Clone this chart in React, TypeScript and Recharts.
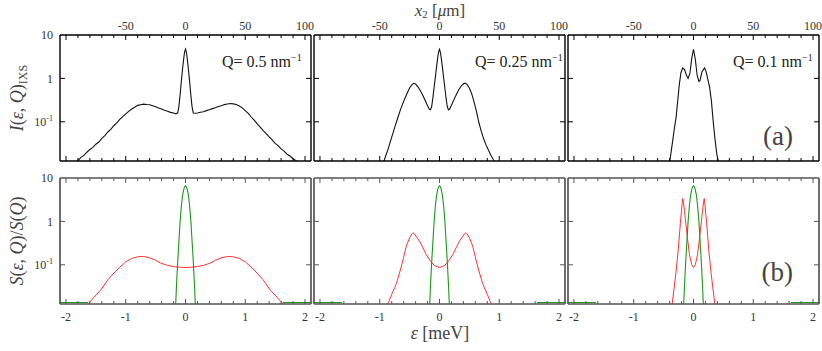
import { LineChart, Line, XAxis, YAxis } from "recharts";

const FONT = "'Liberation Serif', 'Times New Roman', 'DejaVu Serif', serif";

// axes
const epsDomain: [number, number] = [-2.1, 2.1];
const yDomain: [number, number] = [0.0125, 10];
const epsTicks = [-2, -1.8, -1.6, -1.4, -1.2, -1, -0.8, -0.6, -0.4, -0.2, 0, 0.2, 0.4, 0.6, 0.8, 1, 1.2, 1.4, 1.6, 1.8, 2];
const epsMajor = [-2, -1, 0, 1, 2];
const epsLabels = ["-2", "-1", "0", "1", "2"];
const x2Major = [-1, 0, 1, 2];
const x2Labels = ["-50", "0", "50", "100"];
const yTicks = [0.1, 1, 10];
const qLabels = ["0.5", "0.25", "0.1"];

// (a) I(eps,Q) IXS, Q = 0.5
const ixs05Eps = [-1.85, -1.8, -1.75, -1.7, -1.65, -1.6, -1.55, -1.5, -1.45, -1.4, -1.35, -1.3, -1.25, -1.2, -1.15, -1.1, -1.05, -1, -0.95, -0.9, -0.85, -0.8, -0.75, -0.7, -0.65, -0.6, -0.55, -0.5, -0.45, -0.4, -0.35, -0.3, -0.25, -0.2, -0.16, -0.13, -0.11, -0.09, -0.07, -0.05, -0.03, -0.015, 0, 0.015, 0.03, 0.05, 0.07, 0.09, 0.11, 0.13, 0.16, 0.2, 0.25, 0.3, 0.35, 0.4, 0.45, 0.5, 0.55, 0.6, 0.65, 0.7, 0.75, 0.8, 0.85, 0.9, 0.95, 1, 1.05, 1.1, 1.15, 1.2, 1.25, 1.3, 1.35, 1.4, 1.45, 1.5, 1.55, 1.6, 1.65, 1.7, 1.75, 1.8, 1.85, 1.9];
const ixs05 = [0.0112, 0.0128, 0.0152, 0.0168, 0.0199, 0.0231, 0.0258, 0.0305, 0.0342, 0.0415, 0.0482, 0.0583, 0.0671, 0.0812, 0.0941, 0.114, 0.131, 0.153, 0.174, 0.197, 0.216, 0.239, 0.248, 0.256, 0.251, 0.247, 0.235, 0.223, 0.207, 0.197, 0.184, 0.176, 0.165, 0.159, 0.153, 0.161, 0.23, 0.42, 0.86, 1.62, 2.85, 4.1, 4.75, 4.05, 2.8, 1.55, 0.82, 0.4, 0.22, 0.16, 0.157, 0.159, 0.166, 0.171, 0.181, 0.189, 0.201, 0.211, 0.225, 0.235, 0.249, 0.257, 0.263, 0.259, 0.251, 0.231, 0.209, 0.181, 0.156, 0.129, 0.109, 0.0895, 0.0758, 0.0628, 0.0535, 0.0448, 0.0382, 0.0318, 0.0283, 0.0238, 0.0212, 0.0179, 0.0163, 0.0141, 0.0127, 0.0112];

// Q = 0.25
const ixs025Eps = [-0.94, -0.9, -0.86, -0.82, -0.78, -0.74, -0.7, -0.66, -0.62, -0.58, -0.54, -0.5, -0.46, -0.43, -0.4, -0.36, -0.32, -0.28, -0.24, -0.2, -0.17, -0.15, -0.13, -0.11, -0.09, -0.07, -0.05, -0.03, -0.015, 0, 0.015, 0.03, 0.05, 0.07, 0.09, 0.11, 0.13, 0.15, 0.17, 0.2, 0.24, 0.28, 0.32, 0.36, 0.4, 0.43, 0.46, 0.5, 0.54, 0.58, 0.62, 0.66, 0.7, 0.74, 0.78, 0.82, 0.86, 0.9, 0.94];
const ixs025 = [0.0112, 0.0165, 0.0235, 0.036, 0.054, 0.082, 0.121, 0.178, 0.252, 0.345, 0.46, 0.6, 0.72, 0.77, 0.74, 0.64, 0.52, 0.41, 0.31, 0.235, 0.195, 0.19, 0.23, 0.36, 0.62, 1.05, 1.8, 3.0, 4.1, 4.7, 4.0, 2.9, 1.75, 1.0, 0.6, 0.35, 0.225, 0.188, 0.197, 0.24, 0.32, 0.42, 0.54, 0.66, 0.75, 0.775, 0.73, 0.6, 0.44, 0.28, 0.17, 0.095, 0.06, 0.04, 0.029, 0.022, 0.017, 0.0135, 0.0112];

// Q = 0.1
const ixs01Eps = [-0.4, -0.38, -0.35, -0.32, -0.29, -0.26, -0.235, -0.21, -0.18, -0.15, -0.12, -0.09, -0.06, -0.03, 0, 0.03, 0.06, 0.09, 0.11, 0.14, 0.185, 0.21, 0.24, 0.27, 0.3, 0.33, 0.36, 0.39, 0.42];
const ixs01 = [0.0115, 0.018, 0.035, 0.07, 0.13, 0.35, 0.77, 1.35, 1.75, 1.6, 1.2, 1.0, 1.3, 2.9, 4.7, 2.8, 1.2, 0.85, 0.9, 1.4, 1.75, 1.45, 0.95, 0.62, 0.3, 0.1, 0.04, 0.018, 0.0115];

// (b) S(eps,Q)/S(Q), red
const s05Eps = [-1.66, -1.6, -1.5, -1.42, -1.3, -1.2, -1.1, -1, -0.9, -0.8, -0.75, -0.7, -0.6, -0.5, -0.42, -0.3, -0.2, -0.1, 0, 0.1, 0.2, 0.3, 0.42, 0.5, 0.6, 0.7, 0.75, 0.8, 0.9, 1, 1.1, 1.2, 1.3, 1.42, 1.5, 1.6, 1.66];
const s05 = [0.0115, 0.014, 0.02, 0.026, 0.045, 0.064, 0.088, 0.117, 0.14, 0.153, 0.156, 0.155, 0.145, 0.127, 0.11, 0.097, 0.091, 0.088, 0.0866, 0.088, 0.091, 0.097, 0.11, 0.127, 0.145, 0.155, 0.156, 0.153, 0.14, 0.117, 0.088, 0.064, 0.045, 0.026, 0.02, 0.014, 0.0115];

const s025Eps = [-0.88, -0.85, -0.8, -0.75, -0.72, -0.65, -0.6, -0.555, -0.5, -0.46, -0.445, -0.42, -0.38, -0.333, -0.28, -0.22, -0.15, -0.08, 0, 0.08, 0.15, 0.22, 0.28, 0.333, 0.38, 0.42, 0.445, 0.46, 0.5, 0.555, 0.6, 0.65, 0.72, 0.75, 0.8, 0.85, 0.88];
const s025 = [0.0115, 0.014, 0.021, 0.03, 0.0375, 0.08, 0.15, 0.27, 0.42, 0.52, 0.545, 0.52, 0.43, 0.35, 0.25, 0.17, 0.12, 0.095, 0.0866, 0.095, 0.12, 0.17, 0.25, 0.35, 0.43, 0.52, 0.545, 0.52, 0.42, 0.27, 0.15, 0.08, 0.0375, 0.03, 0.021, 0.014, 0.0115];

const s01Eps = [-0.36, -0.33, -0.3, -0.26, -0.22, -0.19, -0.18, -0.17, -0.15, -0.123, -0.1, -0.067, -0.03, 0, 0.03, 0.067, 0.1, 0.123, 0.15, 0.17, 0.18, 0.19, 0.22, 0.26, 0.3, 0.33, 0.36];
const s01 = [0.0115, 0.025, 0.055, 0.187, 0.9, 2.6, 3.37, 2.9, 1.7, 0.78, 0.4, 0.17, 0.1, 0.0866, 0.1, 0.17, 0.4, 0.78, 1.7, 2.9, 3.37, 2.6, 0.9, 0.187, 0.055, 0.025, 0.0115];

// green curve (same in every panel); flat parts lie on the floor, null breaks the line
const resEps = [-2.1, -1.63, -1.0, -0.165, -0.15, -0.13, -0.11, -0.09, -0.07, -0.05, -0.03, -0.015, 0, 0.015, 0.03, 0.05, 0.07, 0.09, 0.11, 0.13, 0.15, 0.165, 1.0, 1.63, 2.1];
const res = [0.0135, 0.0135, null, 0.0115, 0.035, 0.12, 0.35, 1.0, 2.2, 3.9, 5.4, 6.3, 6.6, 6.3, 5.4, 3.9, 2.2, 1.0, 0.35, 0.12, 0.035, 0.0115, null, 0.0135, 0.0135];

const pts = (e: number[], v: (number | null)[]) => e.map((x, i) => ({ e: x, v: v[i] }));

const topCurves = [pts(ixs05Eps, ixs05), pts(ixs025Eps, ixs025), pts(ixs01Eps, ixs01)];
const redCurves = [pts(s05Eps, s05), pts(s025Eps, s025), pts(s01Eps, s01)];
const greenCurve = pts(resEps, res);

// layout
const colLefts = [60, 314, 568];
const rowTops = [35, 178];
const plotW = 251;
const plotH = 126;
const AX_L = 45, AX_R = 15, AX_T = 30, AX_B = 30;

const isMajor = (v: number) => Math.abs(v - Math.round(v)) < 1e-6;
const txt = { fontFamily: FONT };

function xTick(side: "top" | "bottom", majors: number[] | null, labels: string[] | null, color: string) {
  return (p: any) => {
    const { x, y, payload } = p;
    const v = payload.value as number;
    const major = isMajor(v);
    const len = major ? 5 : 3;
    const dir = side === "bottom" ? -1 : 1;
    const idx = majors ? majors.findIndex((m) => Math.abs(m - v) < 1e-6) : -1;
    return (
      <g>
        <line x1={x} y1={y} x2={x} y2={y + dir * len} stroke={color} strokeWidth={1} />
        {idx >= 0 && labels && (
          <text x={x} y={side === "bottom" ? y + 17 : y - 5} textAnchor="middle" fontSize={12} fill="#333" style={txt}>
            {labels[idx]}
          </text>
        )}
      </g>
    );
  };
}

function yTick(side: "left" | "right", showLabel: boolean, color: string) {
  return (p: any) => {
    const { x, y, payload } = p;
    const v = payload.value as number;
    const dir = side === "left" ? 1 : -1;
    const edge = v >= 10 || v <= yDomain[0];
    return (
      <g>
        {!edge && <line x1={x} y1={y} x2={x + dir * 5} y2={y} stroke={color} strokeWidth={1} />}
        {showLabel && (
          <text x={x - 7} y={y} dy="0.35em" textAnchor="end" fontSize={12} fill="#333" style={txt}>
            {v === 0.1 ? (
              <>
                <tspan>10</tspan>
                <tspan dy={-5} fontSize={8}>-1</tspan>
              </>
            ) : (
              <tspan>{v >= 10 ? "10" : "1"}</tspan>
            )}
          </text>
        )}
      </g>
    );
  };
}

function Panel({ row, col }: { row: number; col: number }) {
  const frame = row === 0 ? "#000" : "#555";
  const fw = row === 0 ? 1.4 : 1.7;
  const left = colLefts[col] - AX_L;
  const top = rowTops[row] - AX_T;
  return (
    <div style={{ position: "absolute", left, top }}>
      <LineChart width={plotW + AX_L + AX_R} height={plotH + AX_T + AX_B} margin={{ top: 0, right: 0, bottom: 0, left: 0 }}>
        <XAxis
          xAxisId="b"
          dataKey="e"
          type="number"
          orientation="bottom"
          domain={epsDomain}
          allowDataOverflow
          ticks={epsTicks}
          interval={0}
          height={AX_B}
          tickSize={0}
          tickMargin={0}
          tickLine={false}
          axisLine={{ stroke: frame, strokeWidth: fw }}
          tick={xTick("bottom", row === 1 ? epsMajor : null, row === 1 ? epsLabels : null, frame)}
        />
        <XAxis
          xAxisId="t"
          dataKey="e"
          type="number"
          orientation="top"
          domain={epsDomain}
          allowDataOverflow
          ticks={epsTicks}
          interval={0}
          height={AX_T}
          tickSize={0}
          tickMargin={0}
          tickLine={false}
          axisLine={{ stroke: frame, strokeWidth: fw }}
          tick={xTick("top", row === 0 ? x2Major : null, row === 0 ? x2Labels : null, frame)}
        />
        <YAxis
          yAxisId="l"
          type="number"
          scale="log"
          domain={yDomain}
          allowDataOverflow
          ticks={yTicks}
          interval={0}
          width={AX_L}
          tickSize={0}
          tickMargin={0}
          tickLine={false}
          axisLine={{ stroke: frame, strokeWidth: fw }}
          tick={yTick("left", col === 0, frame)}
        />
        <YAxis
          yAxisId="r"
          orientation="right"
          type="number"
          scale="log"
          domain={yDomain}
          allowDataOverflow
          ticks={yTicks}
          interval={0}
          width={AX_R}
          tickSize={0}
          tickMargin={0}
          tickLine={false}
          axisLine={{ stroke: frame, strokeWidth: fw }}
          tick={yTick("right", false, frame)}
        />
        {row === 0 ? (
          <Line xAxisId="b" yAxisId="l" data={topCurves[col]} dataKey="v" type="linear" stroke="#111" strokeWidth={1.1} dot={false} isAnimationActive={false} />
        ) : (
          <Line xAxisId="b" yAxisId="l" data={redCurves[col]} dataKey="v" type="linear" stroke="#ff3333" strokeWidth={1} dot={false} isAnimationActive={false} />
        )}
        {row === 1 && (
          <Line xAxisId="b" yAxisId="l" data={greenCurve} dataKey="v" type="linear" stroke="#1e961e" strokeWidth={1.1} dot={false} isAnimationActive={false} />
        )}
      </LineChart>
    </div>
  );
}

export default function App() {
  const qX = [222, 475, 733];
  return (
    <div style={{ position: "absolute", left: 0, top: 0, width: 822, height: 351, background: "#fff" }}>
      {[0, 1].map((r) => [0, 1, 2].map((c) => <Panel key={`${r}-${c}`} row={r} col={c} />))}
      <svg width={822} height={351} style={{ position: "absolute", left: 0, top: 0, pointerEvents: "none", fontFamily: FONT }}>
        <text x={440} y={16} textAnchor="middle" fontSize={17} fill="#444">
          <tspan fontStyle="italic">x</tspan>
          <tspan dy={2} fontSize={11}>2</tspan>
          <tspan dy={-2}> [</tspan>
          <tspan fontStyle="italic">μ</tspan>
          <tspan>m]</tspan>
        </text>
        <text x={440} y={339} textAnchor="middle" fontSize={18} fill="#444">
          <tspan fontStyle="italic">ε</tspan>
          <tspan> [meV]</tspan>
        </text>
        <text transform="translate(23,98) rotate(-90)" textAnchor="middle" fontSize={18} fill="#444">
          <tspan fontStyle="italic">I</tspan>
          <tspan>(</tspan>
          <tspan fontStyle="italic">ε</tspan>
          <tspan>, </tspan>
          <tspan fontStyle="italic">Q</tspan>
          <tspan>)</tspan>
          <tspan dy={4} fontSize={12}>IXS</tspan>
        </text>
        <text transform="translate(23,241) rotate(-90)" textAnchor="middle" fontSize={18} fill="#444">
          <tspan fontStyle="italic">S</tspan>
          <tspan>(</tspan>
          <tspan fontStyle="italic">ε</tspan>
          <tspan>, </tspan>
          <tspan fontStyle="italic">Q</tspan>
          <tspan>)/</tspan>
          <tspan fontStyle="italic">S</tspan>
          <tspan>(</tspan>
          <tspan fontStyle="italic">Q</tspan>
          <tspan>)</tspan>
        </text>
        {qLabels.map((q, i) => (
          <text key={q} x={qX[i]} y={67} fontSize={16} fill="#222">
            <tspan>Q= {q}  nm</tspan>
            <tspan dy={-6} fontSize={10}>−1</tspan>
          </text>
        ))}
        <text x={793} y={145} textAnchor="end" fontSize={27} fill="#444">(a)</text>
        <text x={793} y={281} textAnchor="end" fontSize={27} fill="#444">(b)</text>
      </svg>
    </div>
  );
}
